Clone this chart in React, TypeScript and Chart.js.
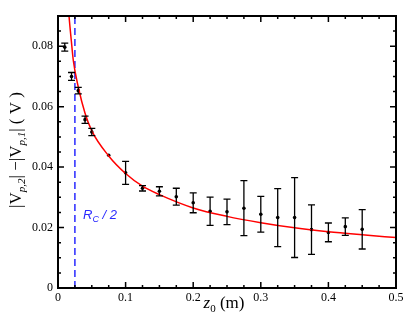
import React, { useEffect, useRef } from 'react';
import { Chart, registerables } from 'chart.js';

Chart.register(...registerables);

// measured data
const zValues = [0.01, 0.02, 0.03, 0.04, 0.05, 0.075, 0.1, 0.125, 0.15, 0.175, 0.2, 0.225, 0.25, 0.275, 0.3, 0.325, 0.35, 0.375, 0.4, 0.425, 0.45];
const dV = [0.0797, 0.07, 0.0653, 0.0557, 0.0516, 0.0439, 0.0381, 0.033, 0.032, 0.0302, 0.0282, 0.0254, 0.0252, 0.0264, 0.0244, 0.0233, 0.0233, 0.0193, 0.0184, 0.0203, 0.0194];
const dVErr = [0.0013, 0.0013, 0.0011, 0.0012, 0.0012, 0, 0.0038, 0.0009, 0.0015, 0.0028, 0.0033, 0.0047, 0.0042, 0.0091, 0.0059, 0.0096, 0.0132, 0.0082, 0.0031, 0.0029, 0.0065];

// fitted curve
const fitZ = [0.0155, 0.0163, 0.0197, 0.0227, 0.03, 0.04, 0.05, 0.075, 0.1, 0.125, 0.15, 0.2, 0.25, 0.3, 0.35, 0.4, 0.45, 0.5];
const fitV = [0.0925, 0.09, 0.0818, 0.0752, 0.0665, 0.0578, 0.052, 0.0437, 0.0379, 0.0337, 0.0309, 0.0265, 0.0237, 0.0216, 0.0199, 0.0186, 0.0176, 0.0167];

// R_C / 2 marker
const rcHalf = 0.025;

// ticks
const xTickLabels = [0, 0.1, 0.2, 0.3, 0.4, 0.5];
const yTickLabels = [0, 0.02, 0.04, 0.06, 0.08];
const xMinorTicks = [0.025, 0.05, 0.075, 0.125, 0.15, 0.175, 0.225, 0.25, 0.275, 0.325, 0.35, 0.375, 0.425, 0.45, 0.475];
const yMinorTicks = [0.005, 0.01, 0.015, 0.025, 0.03, 0.035, 0.045, 0.05, 0.055, 0.065, 0.07, 0.075, 0.085];

const X_MIN = 0, X_MAX = 0.5, Y_MIN = 0, Y_MAX = 0.09;

type Part = { text: string; font: string; dy: number };

function drawParts(ctx: CanvasRenderingContext2D, parts: Part[], x: number, y: number, align: 'left' | 'center') {
  let total = 0;
  const widths = parts.map((p) => {
    ctx.font = p.font;
    const w = ctx.measureText(p.text).width;
    total += w;
    return w;
  });
  let cx = align === 'center' ? x - total / 2 : x;
  ctx.textAlign = 'left';
  ctx.textBaseline = 'alphabetic';
  parts.forEach((p, i) => {
    ctx.font = p.font;
    ctx.fillText(p.text, cx, y + p.dy);
    cx += widths[i];
  });
}

const framePlugin = {
  id: 'framePlugin',
  afterDatasetsDraw(chart: any) {
    const { ctx, chartArea: a, scales } = chart;
    const xs = scales.x;
    const ys = scales.y;
    ctx.save();
    // error bars
    ctx.strokeStyle = '#000';
    ctx.lineWidth = 1.3;
    zValues.forEach((z, i) => {
      const e = dVErr[i];
      if (!e) return;
      const px = xs.getPixelForValue(z);
      const t = ys.getPixelForValue(dV[i] + e);
      const b = ys.getPixelForValue(dV[i] - e);
      ctx.beginPath();
      ctx.moveTo(px, t);
      ctx.lineTo(px, b);
      ctx.moveTo(px - 3.5, t);
      ctx.lineTo(px + 3.5, t);
      ctx.moveTo(px - 3.5, b);
      ctx.lineTo(px + 3.5, b);
      ctx.stroke();
    });

    // frame
    ctx.lineWidth = 2;
    ctx.strokeRect(a.left, a.top, a.right - a.left, a.bottom - a.top);

    // ticks
    ctx.lineWidth = 1.5;
    ctx.beginPath();
    const xt = (v: number, len: number) => {
      const px = xs.getPixelForValue(v);
      ctx.moveTo(px, a.bottom);
      ctx.lineTo(px, a.bottom - len);
      ctx.moveTo(px, a.top);
      ctx.lineTo(px, a.top + len);
    };
    const yt = (v: number, len: number) => {
      const py = ys.getPixelForValue(v);
      ctx.moveTo(a.left, py);
      ctx.lineTo(a.left + len, py);
      ctx.moveTo(a.right, py);
      ctx.lineTo(a.right - len, py);
    };
    xTickLabels.forEach((v) => xt(v, 6));
    xMinorTicks.forEach((v) => xt(v, 3));
    yTickLabels.forEach((v) => yt(v, 6));
    yMinorTicks.forEach((v) => yt(v, 3));
    ctx.stroke();

    // R_C / 2 label
    ctx.fillStyle = '#2a2aff';
    drawParts(ctx, [
      { text: 'R', font: 'italic 13px "Liberation Sans"', dy: 0 },
      { text: 'C', font: 'italic 9px "Liberation Sans"', dy: 3 },
      { text: ' / 2', font: 'italic 13px "Liberation Sans"', dy: 0 },
    ], 83, 219, 'left');

    // x title
    ctx.fillStyle = '#000';
    drawParts(ctx, [
      { text: 'z', font: 'italic 17px "Liberation Serif"', dy: 0 },
      { text: '0', font: '11px "Liberation Serif"', dy: 4 },
      { text: ' (m)', font: '17px "Liberation Serif"', dy: 0 },
    ], 224, 308, 'center');

    // y title
    ctx.translate(21, 150);
    ctx.rotate(-Math.PI / 2);
    drawParts(ctx, [
      { text: '|V', font: '17px "Liberation Serif"', dy: 0 },
      { text: 'p,2', font: 'italic 11px "Liberation Serif"', dy: 4 },
      { text: '| \u2212|V', font: '17px "Liberation Serif"', dy: 0 },
      { text: 'p,1', font: 'italic 11px "Liberation Serif"', dy: 4 },
      { text: '| ( V )', font: '17px "Liberation Serif"', dy: 0 },
    ], 0, 0, 'center');
    ctx.restore();
  },
};

const fmt = (v: number) => String(Number(v.toFixed(3)));

export default function App() {
  const ref = useRef<HTMLCanvasElement>(null);
  useEffect(() => {
    const canvas = ref.current!;
    const chart = new Chart(canvas, {
      type: 'scatter',
      data: {
        datasets: [
          {
            type: 'line',
            data: fitZ.map((x, i) => ({ x, y: fitV[i] })),
            borderColor: '#ff0000',
            borderWidth: 1.5,
            pointRadius: 0,
            cubicInterpolationMode: 'monotone',
            fill: false,
          } as any,
          {
            type: 'line',
            data: [{ x: rcHalf, y: Y_MIN }, { x: rcHalf, y: Y_MAX }],
            borderColor: '#2a2aff',
            borderWidth: 1.5,
            borderDash: [7, 4],
            pointRadius: 0,
            fill: false,
          } as any,
          {
            type: 'scatter',
            data: zValues.map((x, i) => ({ x, y: dV[i] })),
            pointRadius: 1.8,
            backgroundColor: '#000',
            borderColor: '#000',
            borderWidth: 0,
          } as any,
        ],
      },
      options: {
        animation: false,
        responsive: false,
        events: [],
        layout: { padding: { top: 16, right: 19, left: 0, bottom: 0 } },
        plugins: { legend: { display: false }, tooltip: { enabled: false } },
        scales: {
          x: {
            type: 'linear',
            min: X_MIN,
            max: X_MAX,
            afterBuildTicks: (s: any) => {
              s.ticks = xTickLabels.map((v) => ({ value: v }));
            },
            afterFit: (s: any) => {
              s.height = 33;
            },
            grid: { display: false, drawTicks: false },
            border: { display: false },
            ticks: {
              color: '#000',
              font: { family: '"Liberation Serif"', size: 12 },
              padding: 3,
              maxRotation: 0,
              autoSkip: false,
              callback: (v: any) => fmt(Number(v)),
            },
          },
          y: {
            type: 'linear',
            min: Y_MIN,
            max: Y_MAX,
            afterBuildTicks: (s: any) => {
              s.ticks = yTickLabels.map((v) => ({ value: v }));
            },
            afterFit: (s: any) => {
              s.width = 58;
            },
            grid: { display: false, drawTicks: false },
            border: { display: false },
            ticks: {
              color: '#000',
              font: { family: '"Liberation Serif"', size: 12 },
              padding: 5,
              autoSkip: false,
              callback: (v: any) => fmt(Number(v)),
            },
          },
        },
      },
      plugins: [framePlugin],
    });
    return () => chart.destroy();
  }, []);
  return (
    <div style={{ position: 'fixed', left: 0, top: 0, width: 415, height: 321, background: '#fff' }}>
      <canvas ref={ref} width={415} height={321} style={{ display: 'block', width: 415, height: 321 }} />
    </div>
  );
}
